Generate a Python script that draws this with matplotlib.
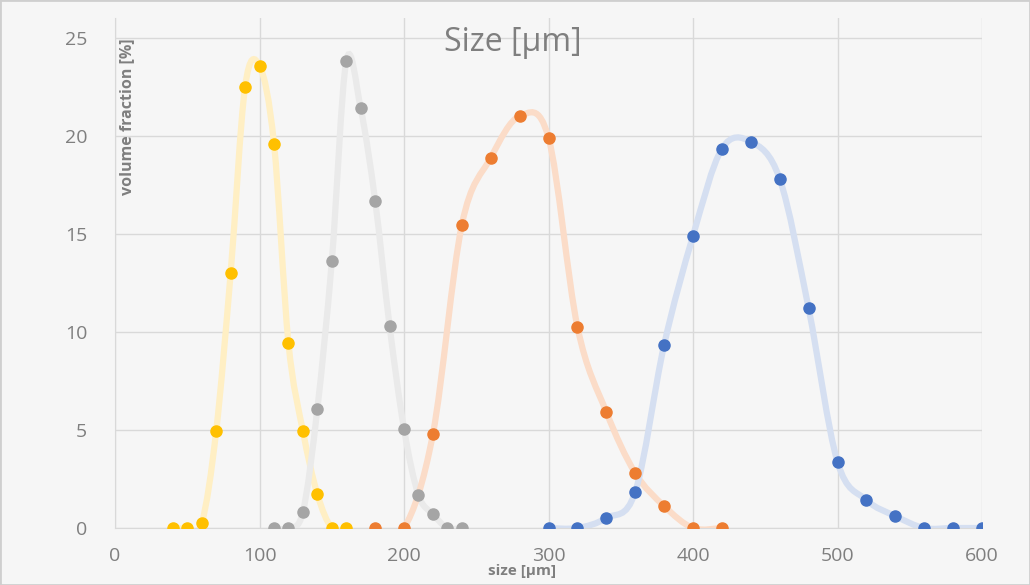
import numpy as np
import matplotlib.pyplot as plt
from matplotlib.path import Path
from matplotlib.patches import PathPatch, Rectangle

plt.rcParams['font.family'] = ['Open Sans', 'DejaVu Sans']

# particle size distributions, volume fraction [%] per size class [µm]
x_yellow = [40, 50, 60, 70, 80, 90, 100, 110, 120, 130, 140, 150, 160]
y_yellow = [0, 0, 0.25, 4.95, 13.0, 22.5, 23.57, 19.6, 9.44, 4.95, 1.73, 0, 0]

x_gray = [110, 120, 130, 140, 150, 160, 170, 180, 190, 200, 210, 220, 230, 240]
y_gray = [0, 0, 0.82, 6.07, 13.6, 23.8, 21.4, 16.7, 10.3, 5.05, 1.68, 0.71, 0, 0]

x_orange = [180, 200, 220, 240, 260, 280, 300, 320, 340, 360, 380, 400, 420]
y_orange = [0, 0, 4.8, 15.46, 18.88, 21.0, 19.9, 10.26, 5.92, 2.8, 1.12, 0, 0]

x_blue = [300, 320, 340, 360, 380, 400, 420, 440, 460, 480, 500, 520, 540, 560, 580, 600]
y_blue = [0, 0, 0.51, 1.84, 9.34, 14.9, 19.34, 19.7, 17.8, 11.2, 3.37, 1.43, 0.61, 0, 0, 0]

x_ticks = [0, 100, 200, 300, 400, 500, 600]
y_ticks = [0, 5, 10, 15, 20, 25]

series = [
    (x_yellow, y_yellow, '#FFC000', '#FFEFC4'),
    (x_gray, y_gray, '#A5A5A5', '#EAEAEA'),
    (x_orange, y_orange, '#ED7D31', '#FBDCC8'),
    (x_blue, y_blue, '#4472C4', '#D5DFF1'),
]


def smooth_path(xs, ys):
    # Excel-style smoothed line: Catmull-Rom segments drawn as cubic Beziers
    p = np.column_stack([xs, ys]).astype(float)
    ext = np.vstack([p[0], p, p[-1]])
    verts = [p[0]]
    codes = [Path.MOVETO]
    for i in range(len(p) - 1):
        p0, p1, p2, p3 = ext[i], ext[i + 1], ext[i + 2], ext[i + 3]
        verts += [p1 + (p2 - p0) / 6, p2 - (p3 - p1) / 6, p2]
        codes += [Path.CURVE4] * 3
    return Path(verts, codes)


bg = '#f6f6f6'
fig = plt.figure(figsize=(10.3, 5.85), dpi=100, facecolor=bg)
ax = fig.add_axes([0.1117, 0.0974, 0.8417, 0.8716])
ax.set_facecolor(bg)

for xs, ys, mc, lc in series:
    ax.add_patch(PathPatch(smooth_path(xs, ys), facecolor='none', edgecolor=lc,
                           linewidth=4.5, capstyle='round', zorder=2))
for xs, ys, mc, lc in series:
    ax.plot(xs, ys, 'o', color=mc, markersize=8, zorder=3)

ax.set_xlim(0, 600)
ax.set_ylim(0, 26)
ax.set_xticks(x_ticks)
ax.set_yticks(y_ticks)
ax.grid(True, color='#d9d9d9', linewidth=1)
ax.set_axisbelow(True)
for s in ['top', 'right']:
    ax.spines[s].set_visible(False)
for s in ['left', 'bottom']:
    ax.spines[s].set_color('#d9d9d9')
ax.tick_params(length=0, labelsize=14, labelcolor='#7f7f7f', pad=14)
ax.tick_params(axis='y', pad=20)

fig.text(0.498, 0.928, 'Size [µm]', fontsize=23, color='#7f7f7f', ha='center', va='center')
fig.text(0.123, 0.80, 'volume fraction [%]', fontsize=11.5, fontweight='bold', color='#7f7f7f',
         rotation=90, ha='center', va='center')
fig.text(0.507, 0.024, 'size [µm]', fontsize=11, fontweight='bold', color='#7f7f7f',
         ha='center', va='center')

fig.patches.append(Rectangle((0, 0), 1, 1, transform=fig.transFigure, fill=False,
                             edgecolor='#cfcfcf', linewidth=2))

fig.savefig('out.png', dpi=100, facecolor=bg)
